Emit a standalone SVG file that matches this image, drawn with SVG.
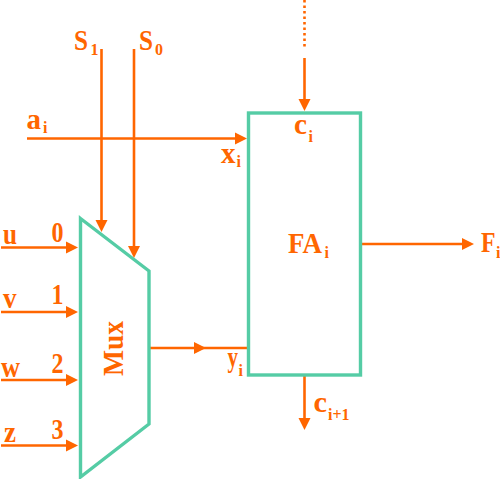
<svg xmlns="http://www.w3.org/2000/svg" width="500" height="479" viewBox="0 0 500 479">
<style>
.c{stroke:#FF6600;stroke-width:2.6;fill:none}
.h{fill:#FF6600;stroke:none}
.n{stroke:#55CCA5;stroke-width:3.4;fill:none}
text{font-family:"Liberation Serif",serif;font-weight:bold;fill:#FF6600}
.t{font-size:30px}
.s{font-size:16px}
</style>
<defs>
<polygon id="ar" class="h" points="0,0 -12,-6 -12,6"/>
</defs>
<rect width="500" height="479" fill="#fff"/>
<g id="connectors">
<path class="c" d="M27 138.500H236"/><use href="#ar" x="247" y="138.500"/>
<path class="c" d="M101.500 49V220"/><use href="#ar" transform="translate(101.500 232) rotate(90)"/>
<path class="c" d="M134 49V248"/><use href="#ar" transform="translate(134 258) rotate(90)"/>
<path class="c" d="M304.500 0V47" stroke-dasharray="2.500 3"/>
<path class="c" d="M304.500 58V100"/><use href="#ar" transform="translate(304.500 111) rotate(90)"/>
<path class="c" d="M1 247.500H68"/><use href="#ar" x="78" y="247.500"/>
<path class="c" d="M1 312H68"/><use href="#ar" x="78" y="312"/>
<path class="c" d="M1 380H68"/><use href="#ar" x="78" y="380"/>
<path class="c" d="M1 445.500H68"/><use href="#ar" x="78" y="445.500"/>
<path class="c" d="M150 348H248"/><use href="#ar" x="206" y="348"/>
<path class="c" d="M362 244H464"/><use href="#ar" x="474" y="244"/>
<path class="c" d="M304.500 376V420"/><use href="#ar" transform="translate(304.500 430) rotate(90)"/>
</g>
<g id="mux">
<polygon class="n" points="80.500,218.500 149,271 149,424 80.500,477"/>
<text class="t" transform="translate(123 376) rotate(-90)" textLength="55" lengthAdjust="spacingAndGlyphs">Mux</text>
</g>
<g id="fa">
<rect class="n" x="248.500" y="113" width="112" height="262"/>
<text class="t" x="288" y="253" textLength="34" lengthAdjust="spacingAndGlyphs">FA</text><text class="s" x="324.500" y="258">i</text>
<text class="t" x="294" y="134" textLength="13" lengthAdjust="spacingAndGlyphs">c</text><text class="s" x="308.500" y="142">i</text>
<text class="t" x="221" y="163" textLength="14.500" lengthAdjust="spacingAndGlyphs">x</text><text class="s" x="236.500" y="167">i</text>
<text class="t" x="227.500" y="367" textLength="10.500" lengthAdjust="spacingAndGlyphs">y</text><text class="s" x="238.500" y="376">i</text>
</g>
<g id="labels">
<text class="t" x="74" y="50" textLength="14" lengthAdjust="spacingAndGlyphs">S</text><text class="s" x="90.500" y="55">1</text>
<text class="t" x="139" y="50" textLength="14" lengthAdjust="spacingAndGlyphs">S</text><text class="s" x="155" y="55">0</text>
<text class="t" x="26.500" y="129" textLength="14.500" lengthAdjust="spacingAndGlyphs">a</text><text class="s" x="43" y="133">i</text>
<text class="t" x="3" y="244" textLength="14" lengthAdjust="spacingAndGlyphs">u</text>
<text class="t" x="3" y="308" textLength="13.500" lengthAdjust="spacingAndGlyphs">v</text>
<text class="t" x="1" y="377" textLength="19" lengthAdjust="spacingAndGlyphs">w</text>
<text class="t" x="4" y="442" textLength="12" lengthAdjust="spacingAndGlyphs">z</text>
<text class="t" x="51.500" y="242" textLength="12" lengthAdjust="spacingAndGlyphs">0</text>
<text class="t" x="51.500" y="304" textLength="12" lengthAdjust="spacingAndGlyphs">1</text>
<text class="t" x="51.500" y="373" textLength="12" lengthAdjust="spacingAndGlyphs">2</text>
<text class="t" x="51.500" y="439" textLength="12" lengthAdjust="spacingAndGlyphs">3</text>
<text class="t" x="481" y="252" textLength="14.500" lengthAdjust="spacingAndGlyphs">F</text><text class="s" x="496" y="258">i</text>
<text class="t" x="313.500" y="412" textLength="13.500" lengthAdjust="spacingAndGlyphs">c</text><text class="s" x="328" y="420">i+1</text>
</g>
</svg>
